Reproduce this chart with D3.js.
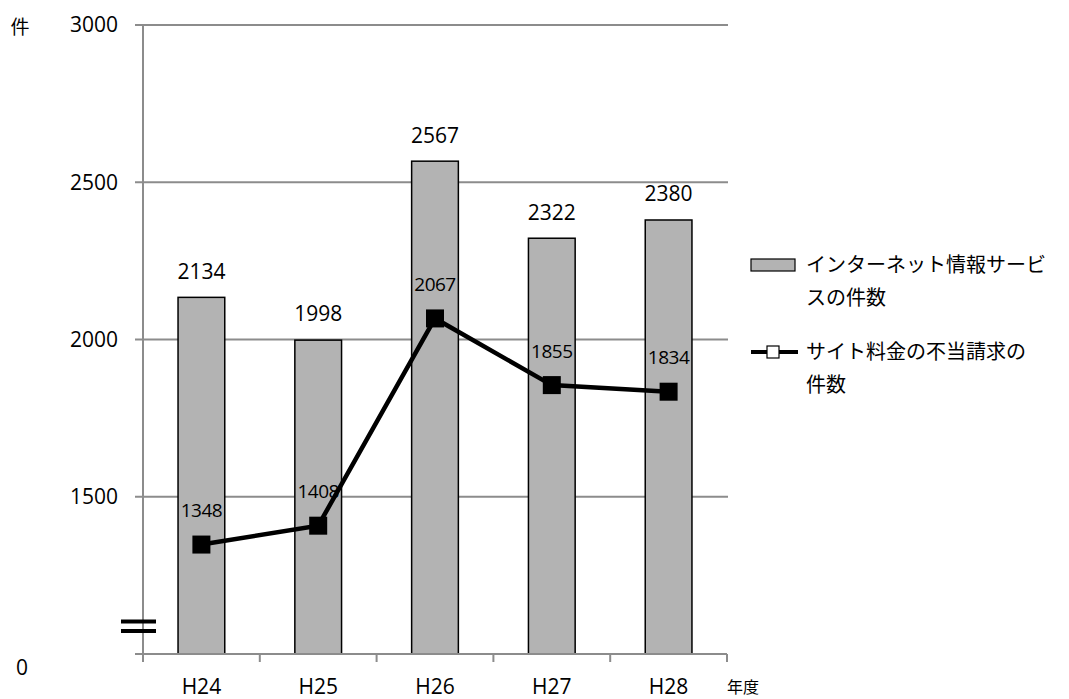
<!DOCTYPE html>
<html>
<head>
<meta charset="utf-8">
<script src="https://cdn.jsdelivr.net/npm/d3@7/dist/d3.min.js"></script>
<style>
body { margin: 0; background: #fff; }
text { font-family: "Open Sans", "Noto Sans CJK JP", sans-serif; fill: #000; }
</style>
</head>
<body>
<script>
var years = ['H24', 'H25', 'H26', 'H27', 'H28'];
var infoCounts = [2134, 1998, 2567, 2322, 2380];
var claimCounts = [1348, 1408, 2067, 1855, 1834];
var tickValues = [1500, 2000, 2500, 3000];
var legendBar = ['インターネット情報サービ', 'スの件数'];
var legendLine = ['サイト料金の不当請求の', '件数'];

var W = 1069, H = 699;
var LEFT = 143, RIGHT = 727, TOP = 25, BOTTOM = 654;
var AXIS_COLOR = '#8c8c8c';
var BAR_COLOR = '#b3b3b3';

var svg = d3.select('body').append('svg')
    .attr('width', W)
    .attr('height', H);

var x = d3.scaleBand().domain(years).range([LEFT, RIGHT]).paddingInner(0.6).paddingOuter(0.3);
var xc = d3.scaleBand().domain(years).range([LEFT, RIGHT]);
// broken axis: bottom of the plot stands for 0 but scale starts at 1000
var y = d3.scaleLinear().domain([1000, 3000]).range([BOTTOM, TOP]);

// gridlines
svg.selectAll('line.grid')
    .data(tickValues)
    .enter()
    .append('line')
    .attr('x1', LEFT - 8).attr('x2', RIGHT + 1)
    .attr('y1', function (d) { return y(d); })
    .attr('y2', function (d) { return y(d); })
    .style('stroke', AXIS_COLOR).style('stroke-width', 2);

// y axis line
svg.append('line')
    .attr('x1', LEFT).attr('x2', LEFT)
    .attr('y1', TOP).attr('y2', BOTTOM)
    .style('stroke', AXIS_COLOR).style('stroke-width', 2);

// tick labels
svg.selectAll('text.ytick')
    .data(tickValues)
    .enter()
    .append('text')
    .attr('x', 118)
    .attr('y', function (d) { return y(d); })
    .attr('dy', '0.35em')
    .attr('text-anchor', 'end')
    .style('font-size', '21px')
    .text(function (d) { return d; });

svg.append('text').attr('x', 22).attr('y', 668).attr('dy', '0.35em')
    .attr('text-anchor', 'middle').style('font-size', '21px').text('0');
svg.append('text').attr('x', 20).attr('y', 27).attr('dy', '0.35em')
    .attr('text-anchor', 'middle').style('font-size', '19px').text('件');

// bars
svg.selectAll('rect.bar')
    .data(infoCounts)
    .enter()
    .append('rect')
    .attr('x', function (d, i) { return x(years[i]); })
    .attr('y', function (d) { return y(d); })
    .attr('width', x.bandwidth())
    .attr('height', function (d) { return BOTTOM - y(d); })
    .style('fill', BAR_COLOR)
    .style('stroke', '#000')
    .style('stroke-width', 1.5);

svg.selectAll('text.barlabel')
    .data(infoCounts)
    .enter()
    .append('text')
    .attr('x', function (d, i) { return xc(years[i]) + xc.bandwidth() / 2; })
    .attr('y', function (d) { return y(d) - 26; })
    .attr('dy', '0.35em')
    .attr('text-anchor', 'middle')
    .style('font-size', '21px')
    .text(function (d) { return d; });

// x axis
svg.append('line')
    .attr('x1', LEFT - 8).attr('x2', RIGHT)
    .attr('y1', BOTTOM).attr('y2', BOTTOM)
    .style('stroke', AXIS_COLOR).style('stroke-width', 2);

var tickX = years.map(function (d) { return xc(d); }).concat([RIGHT]);
svg.selectAll('line.xtick')
    .data(tickX)
    .enter()
    .append('line')
    .attr('x1', function (d) { return d; }).attr('x2', function (d) { return d; })
    .attr('y1', BOTTOM).attr('y2', BOTTOM + 8)
    .style('stroke', AXIS_COLOR).style('stroke-width', 2);

svg.selectAll('text.xlabel')
    .data(years)
    .enter()
    .append('text')
    .attr('x', function (d) { return xc(d) + xc.bandwidth() / 2; })
    .attr('y', 687)
    .attr('dy', '0.35em')
    .attr('text-anchor', 'middle')
    .style('font-size', '21px')
    .text(function (d) { return d; });

svg.append('text').attr('x', 727).attr('y', 687).attr('dy', '0.35em')
    .style('font-size', '16px').text('年度');

// axis break mark
[621.5, 631].forEach(function (yy) {
    svg.append('line')
        .attr('x1', 121).attr('x2', 156)
        .attr('y1', yy).attr('y2', yy)
        .style('stroke', '#000').style('stroke-width', 4);
});

// line series
var cx = function (d, i) { return xc(years[i]) + xc.bandwidth() / 2; };
var line = d3.line()
    .x(function (d, i) { return cx(d, i); })
    .y(function (d) { return y(d); });

svg.append('path')
    .datum(claimCounts)
    .attr('d', line)
    .style('fill', 'none')
    .style('stroke', '#000')
    .style('stroke-width', 4.5);

var MK = 18;
svg.selectAll('rect.marker')
    .data(claimCounts)
    .enter()
    .append('rect')
    .attr('x', function (d, i) { return cx(d, i) - MK / 2; })
    .attr('y', function (d) { return y(d) - MK / 2; })
    .attr('width', MK).attr('height', MK)
    .style('fill', '#000');

svg.selectAll('text.linelabel')
    .data(claimCounts)
    .enter()
    .append('text')
    .attr('x', function (d, i) { return cx(d, i); })
    .attr('y', function (d) { return y(d) - 34; })
    .attr('dy', '0.35em')
    .attr('text-anchor', 'middle')
    .style('font-size', '19px')
    .style('letter-spacing', '-0.5px')
    .text(function (d) { return d; });

// legend
var lg = svg.append('g');
lg.append('rect')
    .attr('x', 751).attr('y', 259).attr('width', 44).attr('height', 12)
    .style('fill', BAR_COLOR).style('stroke', '#000').style('stroke-width', 1.2);
legendBar.forEach(function (t, i) {
    lg.append('text').attr('x', 806).attr('y', 265 + i * 33).attr('dy', '0.35em')
        .style('font-size', '20px').text(t);
});
lg.append('line')
    .attr('x1', 751).attr('x2', 798).attr('y1', 352).attr('y2', 352)
    .style('stroke', '#000').style('stroke-width', 4);
lg.append('rect')
    .attr('x', 767).attr('y', 346).attr('width', 12).attr('height', 12)
    .style('fill', '#fff').style('stroke', '#000').style('stroke-width', 1.2);
legendLine.forEach(function (t, i) {
    lg.append('text').attr('x', 806).attr('y', 352 + i * 33).attr('dy', '0.35em')
        .style('font-size', '20px').text(t);
});
</script>
</body>
</html>
